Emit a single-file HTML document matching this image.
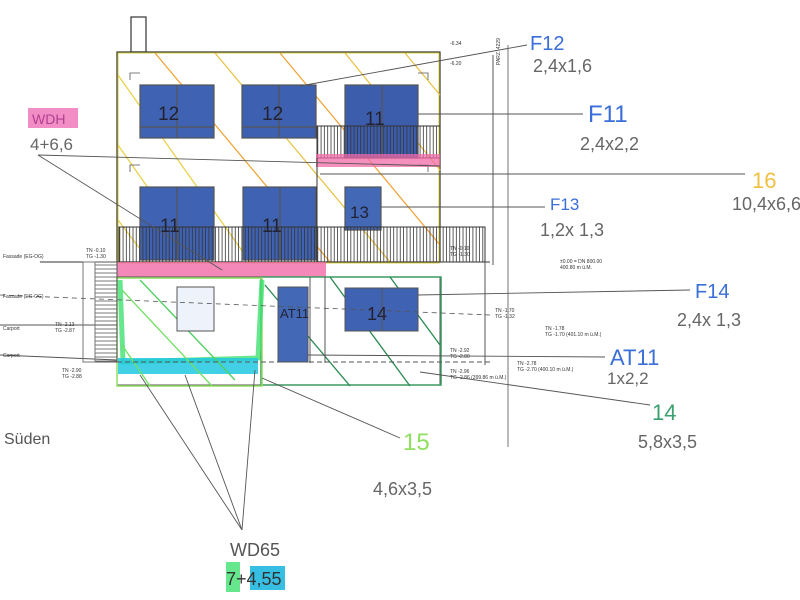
<!DOCTYPE html>
<html><head><style>
html,body{margin:0;padding:0;background:#fff;}
svg{display:block}
.h{font-family:"Liberation Sans",sans-serif;}
</style></head><body>
<svg width="800" height="600" viewBox="0 0 800 600" xmlns="http://www.w3.org/2000/svg">
<defs>
<pattern id="rail" width="3.3" height="10" patternUnits="userSpaceOnUse"><line x1="1" y1="0" x2="1" y2="10" stroke="#333" stroke-width="0.8"/></pattern>
<pattern id="stairs" width="10" height="4" patternUnits="userSpaceOnUse"><line x1="0" y1="1" x2="10" y2="1" stroke="#555" stroke-width="0.8"/></pattern>
</defs>
<rect width="800" height="600" fill="#fff"/>
<rect x="131" y="17" width="15" height="35" fill="#fff" stroke="#333" stroke-width="1.2"/>
<rect x="117" y="52" width="323" height="210" fill="none" stroke="#333" stroke-width="1.2"/>
<rect x="118" y="53" width="321" height="210" fill="none" stroke="#d8d040" stroke-width="1"/>
<g stroke-width="1.2" fill="none">
<line x1="118" y1="75" x2="250" y2="262" stroke="#e8d040"/>
<line x1="118" y1="145" x2="200" y2="262" stroke="#e8d040"/>
<line x1="118" y1="220" x2="150" y2="262" stroke="#e8d040"/>
<line x1="155" y1="53" x2="330" y2="262" stroke="#f0a030"/>
<line x1="215" y1="53" x2="390" y2="262" stroke="#e8c040"/>
<line x1="280" y1="53" x2="440" y2="245" stroke="#f0a030"/>
<line x1="345" y1="53" x2="440" y2="170" stroke="#e8c040"/>
<line x1="405" y1="53" x2="440" y2="95" stroke="#e8c040"/>
</g>
<g stroke="#555" stroke-width="0.8" fill="none">
<path d="M130 80v-7h10M418 73h10v7M130 172v-7h10M418 165h10v7"/>
</g>
<g stroke="#555" stroke-width="1.2">
<rect x="140" y="85" width="74" height="53" fill="#3f62b2"/>
<rect x="242" y="85" width="74" height="53" fill="#3d60b0"/>
<rect x="345" y="85" width="73" height="73" fill="#3c5cac"/>
<rect x="140" y="187" width="74" height="73" fill="#3f62b2"/>
<rect x="243" y="187" width="73" height="73" fill="#3f62b2"/>
<rect x="345" y="187" width="36" height="43" fill="#4268b6"/>
<line x1="177" y1="85" x2="177" y2="138"/><line x1="279" y1="85" x2="279" y2="138"/><line x1="382" y1="85" x2="382" y2="158"/>
<line x1="177" y1="187" x2="177" y2="260"/><line x1="280" y1="187" x2="280" y2="260"/>
<line x1="140" y1="127" x2="214" y2="127"/><line x1="242" y1="127" x2="316" y2="127"/>
</g>
<rect x="317" y="126" width="123" height="32" fill="url(#rail)" stroke="#333"/>
<rect x="316" y="154" width="124" height="13" fill="#f06aa8" opacity="0.75"/>
<line x1="317" y1="158" x2="317" y2="262" stroke="#333"/>
<rect x="119" y="227" width="366" height="35" fill="url(#rail)" stroke="#333"/>
<line x1="40" y1="262" x2="490" y2="262" stroke="#333"/>
<rect x="117" y="262" width="209" height="15" fill="#f06aa8" opacity="0.8"/>
<rect x="117" y="277" width="323" height="108" fill="none" stroke="#555"/>
<rect x="261" y="277" width="180" height="108" fill="none" stroke="#3a9a60" stroke-width="1.5"/>
<rect x="117" y="278" width="145" height="108" fill="none" stroke="#90e060" stroke-width="1.5"/>
<path d="M120 280 L123 362 L258 358 L262 280" fill="none" stroke="#40e070" stroke-width="5" opacity="0.8"/>
<rect x="118" y="358" width="140" height="16" fill="#20c8e0" opacity="0.85"/>
<g stroke-width="1.3" fill="none">
<line x1="122" y1="290" x2="212" y2="386" stroke="#70e060"/>
<line x1="140" y1="280" x2="235" y2="380" stroke="#50d060"/>
<line x1="122" y1="345" x2="150" y2="386" stroke="#70e060"/>
<line x1="265" y1="285" x2="350" y2="386" stroke="#2a8a50"/>
<line x1="330" y1="277" x2="410" y2="386" stroke="#2a8a50"/>
<line x1="390" y1="277" x2="440" y2="345" stroke="#2a8a50"/>
</g>
<rect x="177" y="287" width="37" height="44" fill="#eef2fa" stroke="#555"/>
<rect x="278" y="287" width="30" height="75" fill="#4268b6" stroke="#555"/>
<rect x="345" y="288" width="73" height="43" fill="#3f62b2" stroke="#555"/>
<line x1="382" y1="288" x2="382" y2="331" stroke="#555"/>
<line x1="310" y1="277" x2="310" y2="363" stroke="#555"/><line x1="325" y1="277" x2="325" y2="363" stroke="#555"/>
<line x1="485" y1="262" x2="485" y2="365" stroke="#555"/>
<line x1="0" y1="295" x2="490" y2="315" stroke="#555" stroke-dasharray="5,4" stroke-width="0.8"/>
<line x1="0" y1="325" x2="117" y2="325" stroke="#555"/>
<line x1="0" y1="355" x2="117" y2="360" stroke="#555"/>
<line x1="117" y1="362" x2="490" y2="362" stroke="#555" stroke-dasharray="5,3"/>
<rect x="95" y="262" width="22" height="100" fill="url(#stairs)" stroke="#555"/>
<rect x="83" y="262" width="12" height="100" fill="none" stroke="#777"/>
<line x1="493" y1="55" x2="493" y2="265" stroke="#555"/>
<line x1="508" y1="45" x2="508" y2="447" stroke="#777"/>
<g class="h" font-size="5" fill="#333">
<text x="495" y="60" transform="rotate(-90 500 60)">PARZ. 4229</text>
<text x="3" y="258">Fassade (EG-OG)</text><text x="3" y="298">Fassade (EG-OG)</text>
<text x="3" y="330">Carport</text><text x="3" y="357">Carport</text>
<text x="55" y="326">TN -2.13</text><text x="55" y="332">TG -2.87</text>
<text x="62" y="372">TN -2.90</text><text x="62" y="378">TG -2.88</text>
<text x="86" y="252">TN -0.10</text><text x="86" y="258">TG -1.30</text>
<text x="450" y="250">TN -0.10</text><text x="450" y="256">TG -1.30</text>
<text x="560" y="263">±0.00 = DN 800.00</text><text x="560" y="269">400.80 m ü.M.</text>
<text x="495" y="312">TN -1.70</text><text x="495" y="318">TG -1.32</text>
<text x="545" y="330">TN -1.78</text><text x="545" y="336">TG -1.70 (401.10 m ü.M.)</text>
<text x="450" y="352">TN -2.92</text><text x="450" y="358">TG -2.80</text>
<text x="517" y="365">TN -2.78</text><text x="517" y="371">TG -2.70 (400.10 m ü.M.)</text>
<text x="450" y="373">TN -2.96</text><text x="450" y="379">TG -2.86 (399.86 m ü.M.)</text>
<text x="450" y="45">-6.34</text><text x="450" y="65">-6.20</text>
</g>
<g stroke="#555" stroke-width="0.9" fill="none">
<line x1="300" y1="86" x2="527" y2="45"/>
<line x1="418" y1="114" x2="583" y2="114"/>
<line x1="38" y1="155" x2="440" y2="166"/>
<line x1="38" y1="155" x2="222" y2="270"/>
<line x1="320" y1="174" x2="745" y2="174"/>
<line x1="381" y1="207" x2="545" y2="207"/>
<line x1="418" y1="295" x2="690" y2="290"/>
<line x1="308" y1="355" x2="605" y2="357"/>
<line x1="420" y1="372" x2="650" y2="405"/>
<line x1="262" y1="378" x2="400" y2="438"/>
<line x1="242" y1="530" x2="140" y2="375"/>
<line x1="242" y1="530" x2="185" y2="375"/>
<line x1="242" y1="530" x2="255" y2="370"/>
</g>
<g class="h">
<text x="158" y="120" font-size="19" fill="#223">12</text>
<text x="262" y="120" font-size="19" fill="#223">12</text>
<text x="365" y="125" font-size="19" fill="#223">11</text>
<text x="160" y="232" font-size="19" fill="#223">11</text>
<text x="262" y="232" font-size="19" fill="#223">11</text>
<text x="350" y="218" font-size="17" fill="#223">13</text>
<text x="280" y="318" font-size="13" fill="#223">AT11</text>
<text x="367" y="320" font-size="18" fill="#223">14</text>
<text x="530" y="50" font-size="20" fill="#3a6ed8">F12</text>
<text x="533" y="72" font-size="18" fill="#666">2,4x1,6</text>
<text x="588" y="122" font-size="24" fill="#3a6ed8">F11</text>
<text x="580" y="150" font-size="18" fill="#666">2,4x2,2</text>
<text x="752" y="188" font-size="22" fill="#f0c040">16</text>
<text x="732" y="210" font-size="18" fill="#666">10,4x6,6</text>
<text x="550" y="210" font-size="17" fill="#3a6ed8">F13</text>
<text x="540" y="236" font-size="18" fill="#666">1,2x 1,3</text>
<text x="695" y="298" font-size="20" fill="#3a6ed8">F14</text>
<text x="677" y="326" font-size="18" fill="#666">2,4x 1,3</text>
<text x="610" y="365" font-size="22" fill="#3a6ed8">AT11</text>
<text x="607" y="384" font-size="17" fill="#666">1x2,2</text>
<text x="652" y="420" font-size="22" fill="#3aa070">14</text>
<text x="638" y="448" font-size="18" fill="#666">5,8x3,5</text>
<text x="403" y="450" font-size="24" fill="#90e060">15</text>
<text x="373" y="495" font-size="18" fill="#666">4,6x3,5</text>
<text x="4" y="444" font-size="16" fill="#555">Süden</text>
<rect x="28" y="108" width="50" height="20" fill="#f070b8" opacity="0.8"/>
<text x="32" y="124" font-size="14" fill="#b04090">WDH</text>
<text x="30" y="150" font-size="17" fill="#666">4+6,6</text>
<text x="230" y="556" font-size="18" fill="#555">WD65</text>
<rect x="226" y="562" width="14" height="30" fill="#40e070" opacity="0.8"/>
<rect x="250" y="566" width="35" height="24" fill="#20b8e0" opacity="0.9"/>
<text x="226" y="585" font-size="18" fill="#333">7+4,55</text>
</g>
</svg>
</body></html>
